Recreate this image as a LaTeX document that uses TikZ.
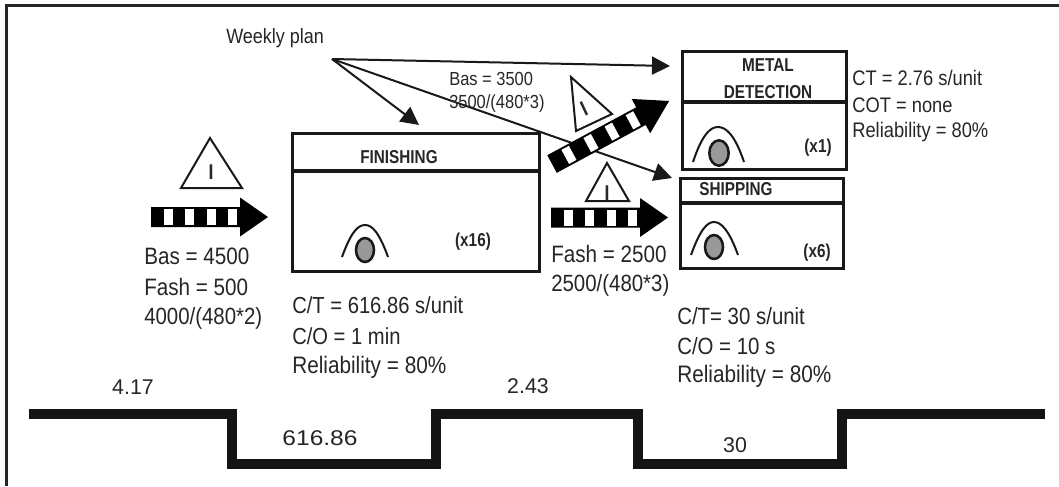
\documentclass[tikz,border=0pt]{standalone}
\usepackage{fontspec}
\setmainfont{Liberation Sans}
\newfontfamily\narrowf[FakeStretch=0.87]{Liberation Sans}
\newfontfamily\narrowb[FakeStretch=0.82]{Liberation Sans Bold}
\usetikzlibrary{arrows.meta,shapes.geometric}
\newcommand{\fsz}[1]{\fontsize{#1}{#1}\selectfont}
\tikzset{
  x=0.75pt,y=-0.75pt,
  framel/.style={line width=2.2pt,black!85},
  boxl/.style={draw=black!90,line width=2.6pt,fill=white,inner sep=0pt,anchor=north west},
  divl/.style={draw=black!90,line width=2.6pt},
  planl/.style={line width=1.5pt,black!90,-{Triangle[length=13.5pt,width=13.5pt]}},
  oparc/.style={line width=1.5pt,black!90},
  opell/.style={ellipse,draw=black!90,line width=1.9pt,fill=black!40,inner sep=0pt},
  tri/.style={draw=black!90,line width=1.5pt,fill=white},
  lab/.style={inner sep=0pt,anchor=west,text=black!85,font=\narrowf\fsz{#1}},
  clab/.style={inner sep=0pt,anchor=center,text=black!85,font=\fsz{#1}},
  blab/.style={inner sep=0pt,anchor=center,text=black!85,font=\narrowb\fsz{14}},
  ilab/.style={inner sep=0pt,anchor=center,text=black!85,font=\narrowb\fsz{16}},
  stepl/.style={line width=7.5pt,black!92,miter limit=10},
}
\newcommand{\pusharrow}[6]{%
  \begin{scope}[shift={(#1,#2)},rotate=#3]
    \fill[black] (0,-10) -- (#5,-10) -- (#5,-19.5) -- (#4,0) -- (#5,19.5) -- (#5,10) -- (0,10) -- cycle;
    \foreach \s in {#6}{\fill[white] (\s,-8) rectangle (\s+8.5,8);}
  \end{scope}}
\begin{document}
\begin{tikzpicture}
\useasboundingbox (0,0) rectangle (1059,486);
\fill[white] (0,0) rectangle (1059,486);
\draw[framel] (6.5,486) -- (6.5,5.5) -- (1059,5.5);

% process boxes
\node[boxl,minimum width=185.25pt,minimum height=103.5pt] (fin) at (291,132) {};
\draw[divl] (291,171) coordinate (finL) -- (538,171) coordinate (finR);
\node[boxl,minimum width=123pt,minimum height=88.5pt] (met) at (681,50) {};
\draw[divl] (681,102) coordinate (metL) -- (845,102) coordinate (metR);
\node[boxl,minimum width=122.25pt,minimum height=67.5pt] (shp) at (679,177) {};
\draw[divl] (679,203) coordinate (shpL) -- (842,203) coordinate (shpR);

\node[blab] (tfin) at (399,157) {FINISHING};
\node[blab] (tx16) at (473,242) {(x16)};
\node[blab] (tmet) at (768,65) {METAL};
\node[blab] (tdet) at (768,92) {DETECTION};
\node[blab] (tx1) at (818,148) {(x1)};
\node[blab] (tshp) at (736,189) {SHIPPING};
\node[blab] (tx6) at (817,253) {(x6)};

% operators
\draw[oparc] (342,257) .. controls (351,232) and (358,225) .. (365,225) .. controls (372,225) and (379,232) .. (388,257);
\node[opell,minimum width=13.5pt,minimum height=18pt] (opfin) at (365,250) {};
\draw[oparc] (693,162) .. controls (702,135) and (710,127) .. (718,127) .. controls (726,127) and (735,135) .. (744,162);
\node[opell,minimum width=14.5pt,minimum height=19pt] (opmet) at (719,153) {};
\draw[oparc] (691,255) .. controls (700,230) and (707,222) .. (714,222) .. controls (721,222) and (729,230) .. (738,255);
\node[opell,minimum width=13.5pt,minimum height=18pt] (opshp) at (714,247) {};

% weekly plan
\node[lab=15.5] (wp) at (226,38) {Weekly plan};
\coordinate (src) at (332,59);
\coordinate (tofin) at (419,125);
\coordinate (tomet) at (670,66);
\coordinate (toshp) at (672,178);
\draw[planl] (src) -- (tofin);
\draw[planl] (src) -- (tomet);
\draw[planl] (src) -- (toshp);

\node[lab=14.2] (b35) at (449,79) {Bas = 3500};
\node[lab=14.2] (d35) at (449,104) {3500/(480*3)};

% push arrows
\pusharrow{151}{217}{0}{117}{89}{13,34,56,77}
\pusharrow{551}{217.5}{0}{117}{89}{13,34,56,77}
\pusharrow{552}{164}{28.3}{133}{101}{15,40,64,88}

% inventory triangles
\draw[tri] (210,138) -- (242,188) -- (181,188) -- cycle;
\node[ilab] (i1) at (211,172) {I};
\draw[tri] (607,163) -- (629,201) -- (586,201) -- cycle;
\node[ilab] (i2) at (607,193) {I};
\draw[tri] (571,77) -- (612,114) -- (576,131) -- cycle;
\node[ilab,rotate=25] (i3) at (584,109) {I};

% data labels
\node[lab=17.8] (l1) at (144,256) {Bas = 4500};
\node[lab=17.8] (l2) at (144,287) {Fash = 500};
\node[lab=17.6] (l3) at (144,318) {4000/(480*2)};
\node[lab=17.8] (l4) at (551,254) {Fash = 2500};
\node[lab=17.6] (l5) at (551,285) {2500/(480*3)};
\node[lab=17.4] (l6) at (292,305) {C/T = 616.86 s/unit};
\node[lab=17.4] (l7) at (292,336) {C/O = 1 min};
\node[lab=17.9] (l8) at (292,367) {Reliability = 80\%};
\node[lab=17.6] (l9) at (677,316) {C/T= 30 s/unit};
\node[lab=17.6] (l10) at (677,346) {C/O = 10 s};
\node[lab=17.9] (l11) at (677,376) {Reliability = 80\%};
\node[lab=15.8] (l12) at (852,78) {CT = 2.76 s/unit};
\node[lab=15.8] (l13) at (852,105) {COT = none};
\node[lab=15.8] (l14) at (852,132) {Reliability = 80\%};

% timeline
\draw[stepl] (29,414) -- (232,414) -- (232,464) -- (436,464) -- (436,414) -- (638,414) -- (638,464) -- (842,464) -- (842,414) -- (1045,414);
\node[clab=16] (t1) at (133,387) {4.17};
\node[clab=16] (t2) at (528,386) {2.43};
\node[clab=16] (t3) at (320,438) {\scalebox{1.15}[1]{616.86}};
\node[clab=16] (t4) at (735,445) {30};
\end{tikzpicture}
\end{document}
